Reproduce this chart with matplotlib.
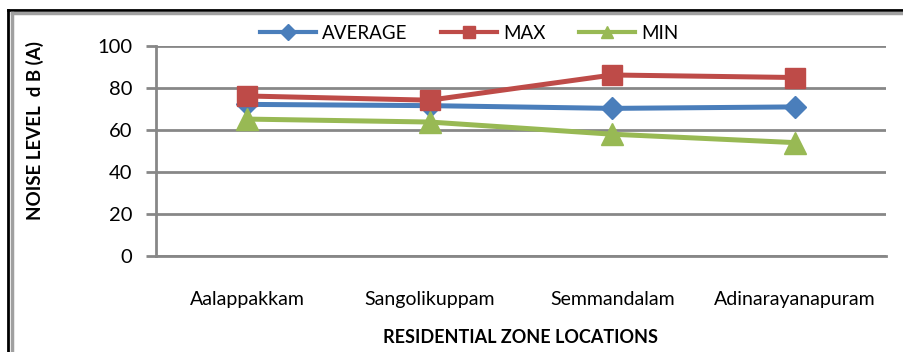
import matplotlib
matplotlib.use("Agg")
import matplotlib.pyplot as plt
from matplotlib.lines import Line2D

locations = ["Aalappakkam", "Sangolikuppam", "Semmandalam", "Adinarayanapuram"]
average = [72.2, 71.6, 70.3, 71.0]
maximum = [76.2, 74.2, 86.2, 85.0]
minimum = [65.2, 63.8, 58.0, 54.0]
y_ticks = [0, 20, 40, 60, 80, 100]

plt.rcParams['font.family'] = ['Lato', 'DejaVu Sans']

fig = plt.figure(figsize=(9.04, 3.52), dpi=100)
ax = fig.add_axes([0.1726, 0.2727, 0.8074, 0.5966])

x = list(range(len(locations)))
blue, red, green = "#4A7EBB", "#BE4B48", "#98B954"
ax.plot(x, average, color=blue, lw=3.6, marker="D", ms=11, label="AVERAGE", zorder=3)
ax.plot(x, maximum, color=red, lw=3.6, marker="s", ms=14, label="MAX", zorder=4)
ax.plot(x, minimum, color=green, lw=3.6, marker="^", ms=16, label="MIN", zorder=3)

ax.set_xlim(-0.5, len(locations) - 0.5)
ax.set_ylim(0, 100)
ax.set_yticks(y_ticks)
ax.set_xticks(x)
ax.set_xticklabels(locations)
ax.grid(axis="y", color="#878787", lw=2)
ax.set_axisbelow(True)
for s in ["top", "right"]:
    ax.spines[s].set_visible(False)
ax.spines["left"].set_color("#878787")
ax.spines["left"].set_linewidth(2)
ax.spines["bottom"].set_color("#878787")
ax.spines["bottom"].set_linewidth(2)
ax.tick_params(axis="y", length=7, width=2, color="#878787", labelsize=14.5, pad=10)
ax.tick_params(axis="x", length=0, labelsize=14, pad=25)

fig.text(0.576, 0.04, "RESIDENTIAL ZONE LOCATIONS", ha="center", va="center",
         fontsize=13, fontweight="bold")
fig.text(0.039, 0.628, "NOISE LEVEL  d B (A)", ha="center", va="center",
         rotation=90, fontsize=13.5, fontweight="bold")

handles = [
    Line2D([], [], color=blue, lw=3, marker="D", ms=8),
    Line2D([], [], color=red, lw=3, marker="s", ms=8),
    Line2D([], [], color=green, lw=3, marker="^", ms=9),
]
fig.legend(handles, ["AVERAGE", "MAX", "MIN"], loc="center",
           bbox_to_anchor=(0.519, 0.906), ncol=3, frameon=False, fontsize=13.5,
           handlelength=3.0, handletextpad=0.3, columnspacing=1.8,
           borderpad=0)

# chart frame: dark outer line with a grey inner line
for (x0, y0, x1, y1, c) in [
    (0.0088, 1 - 10 / 352, 1.0, 1 - 10 / 352, "black"),
    (0.0088, 1 - 10 / 352, 0.0088, 0.0, "black"),
    (12.5 / 904, 1 - 13 / 352, 1.0, 1 - 13 / 352, "#A0A0A0"),
    (12.5 / 904, 1 - 13 / 352, 12.5 / 904, 0.0, "#A0A0A0"),
]:
    fig.add_artist(Line2D([x0, x1], [y0, y1], color=c, lw=2 if c == "black" else 2.5,
                          transform=fig.transFigure))

fig.savefig("out.png", dpi=100, facecolor="white")
